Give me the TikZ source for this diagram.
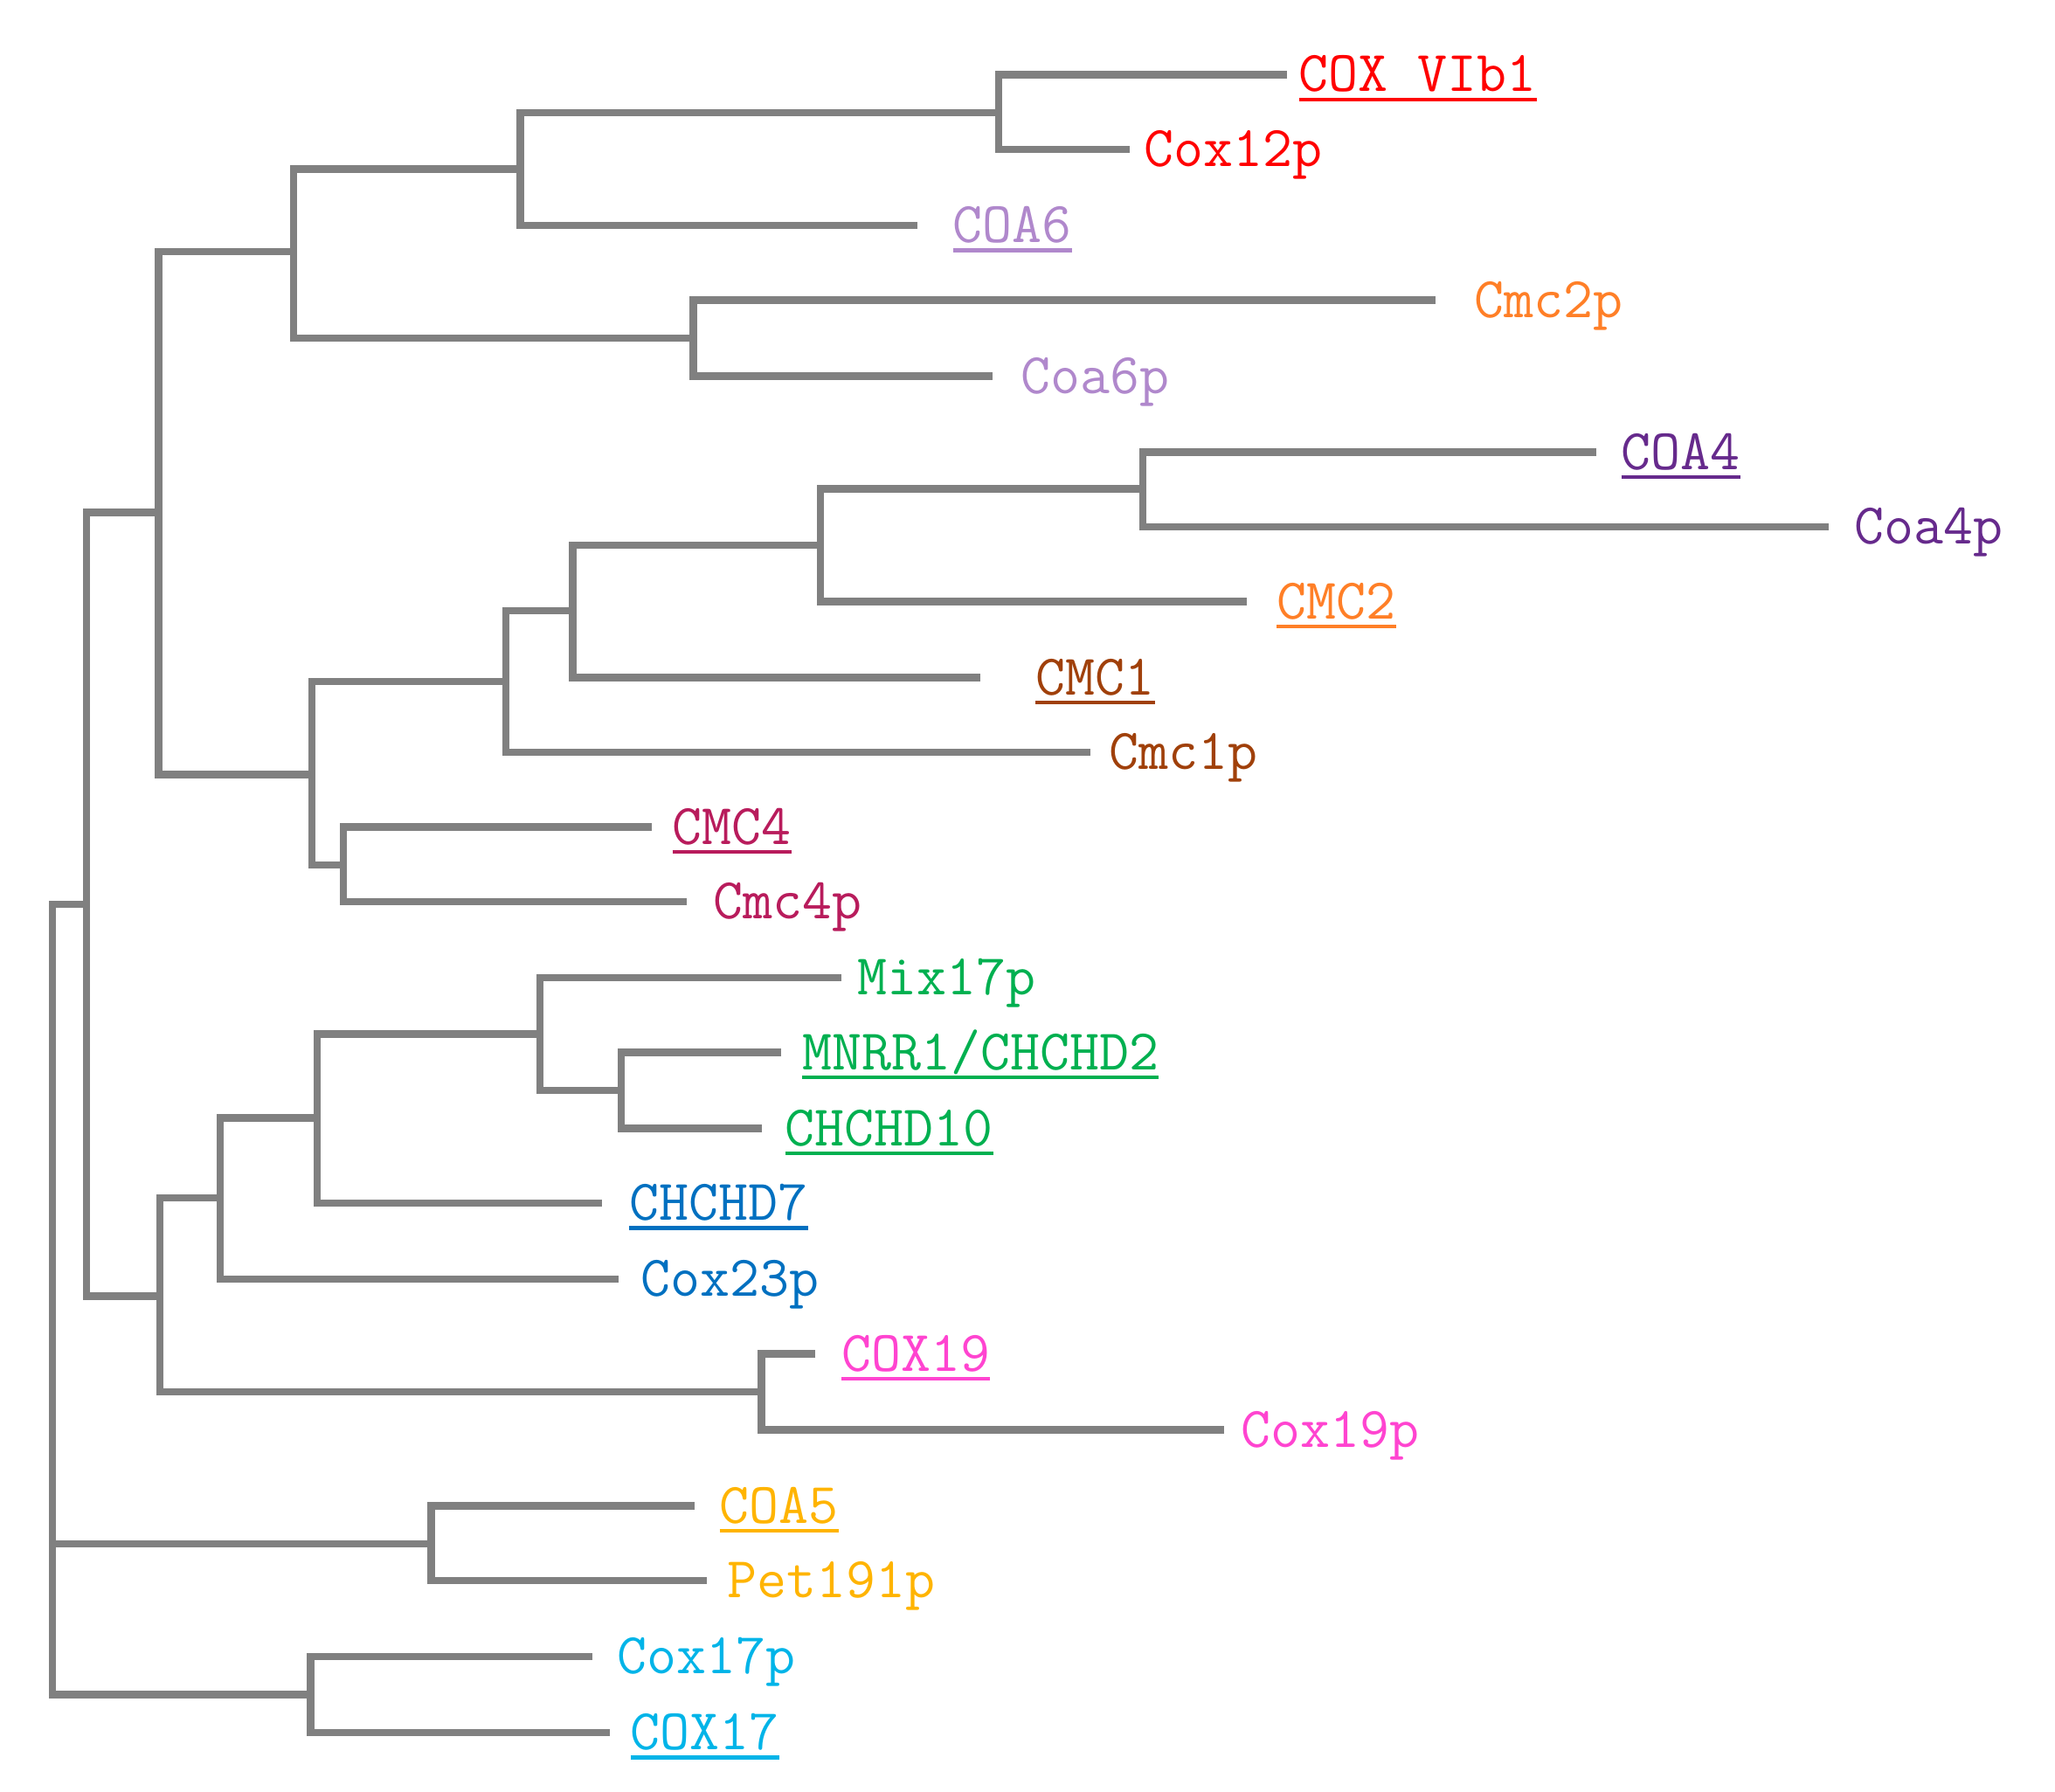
\documentclass[tikz,border=0pt]{standalone}
\usepackage{fontspec}
\definecolor{treegray}{HTML}{808080}
\definecolor{cRed}{HTML}{FF0000}
\definecolor{cLilac}{HTML}{B088CC}
\definecolor{cOrange}{HTML}{FF7F27}
\definecolor{cPurple}{HTML}{662A8C}
\definecolor{cBrown}{HTML}{A0400A}
\definecolor{cCrimson}{HTML}{B81C5C}
\definecolor{cGreen}{HTML}{00B050}
\definecolor{cBlue}{HTML}{0070C0}
\definecolor{cPink}{HTML}{FF44D0}
\definecolor{cGold}{HTML}{FFB400}
\definecolor{cCyan}{HTML}{00B4E8}
\tikzset{
  branch/.style={draw=treegray, line width=5.5pt},
  lbl/.style={anchor=base west, inner sep=0pt, font=\ttfamily\fontsize{44}{46}\selectfont},
  uline/.style={line width=2.7pt},
}
\begin{document}
\begin{tikzpicture}[x=1pt,y=-1pt]
    \useasboundingbox (0,0) rectangle (1568,1367);
    % leaf tips
    \coordinate (tCoxVIb) at (982,57);
    \coordinate (tCoxXIIp) at (862,114);
    \coordinate (tCoaVI) at (700,172);
    \coordinate (tCmcIIp) at (1095,229);
    \coordinate (tCoaVIp) at (757,287);
    \coordinate (tCoaIV) at (1218,345);
    \coordinate (tCoaIVp) at (1395,402);
    \coordinate (tCmcII) at (951,459);
    \coordinate (tCmcI) at (748,517);
    \coordinate (tCmcIp) at (832,574);
    \coordinate (tCmcIV) at (497,631);
    \coordinate (tCmcIVp) at (524,688);
    \coordinate (tMix) at (642,746);
    \coordinate (tMnrr) at (596,803);
    \coordinate (tChchdX) at (581,861);
    \coordinate (tChchdVII) at (459,918);
    \coordinate (tCoxXXIIIp) at (472,976);
    \coordinate (tCoxXIX) at (622,1033);
    \coordinate (tCoxXIXp) at (934,1091);
    \coordinate (tCoaV) at (530,1149);
    \coordinate (tPet) at (539,1206);
    \coordinate (tCoxXVIIp) at (452,1264);
    \coordinate (tCoxXVII) at (465,1322);
    % inner nodes
    \coordinate (nA) at (762,86);
    \coordinate (nB) at (397,129);
    \coordinate (nC) at (529,258);
    \coordinate (nD) at (224,192);
    \coordinate (nE) at (872,373);
    \coordinate (nF) at (626,416);
    \coordinate (nG) at (437,466);
    \coordinate (nH) at (386,520);
    \coordinate (nI) at (262,660);
    \coordinate (nJ) at (238,591);
    \coordinate (nK) at (121,391);
    \coordinate (nL) at (474,832);
    \coordinate (nM) at (412,789);
    \coordinate (nN) at (242,853);
    \coordinate (nO) at (168,914);
    \coordinate (nP) at (581,1062);
    \coordinate (nQ) at (122,989);
    \coordinate (nR) at (66,690);
    \coordinate (nS) at (329,1178);
    \coordinate (nT) at (237,1293);
    \coordinate (root) at (40,1178);
    % branches
    \draw[branch] (tCoxVIb) -| (nA) |- (tCoxXIIp);
    \draw[branch] (nA) -| (nB) |- (tCoaVI);
    \draw[branch] (tCmcIIp) -| (nC) |- (tCoaVIp);
    \draw[branch] (nB) -| (nD) |- (nC);
    \draw[branch] (tCoaIV) -| (nE) |- (tCoaIVp);
    \draw[branch] (nE) -| (nF) |- (tCmcII);
    \draw[branch] (nF) -| (nG) |- (tCmcI);
    \draw[branch] (nG) -| (nH) |- (tCmcIp);
    \draw[branch] (tCmcIV) -| (nI) |- (tCmcIVp);
    \draw[branch] (nH) -| (nJ) |- (nI);
    \draw[branch] (nD) -| (nK) |- (nJ);
    \draw[branch] (tMnrr) -| (nL) |- (tChchdX);
    \draw[branch] (tMix) -| (nM) |- (nL);
    \draw[branch] (nM) -| (nN) |- (tChchdVII);
    \draw[branch] (nN) -| (nO) |- (tCoxXXIIIp);
    \draw[branch] (tCoxXIX) -| (nP) |- (tCoxXIXp);
    \draw[branch] (nO) -| (nQ) |- (nP);
    \draw[branch] (nK) -| (nR) |- (nQ);
    \draw[branch] (tCoaV) -| (nS) |- (tPet);
    \draw[branch] (tCoxXVIIp) -| (nT) |- (tCoxXVII);
    \draw[branch] (nR) -| (root) |- (nT);
    \draw[branch] (root) -- (nS);
    % labels
    \node[lbl, text=cRed] (lCoxVIb) at (991,70) {COX VIb1};
    \node[lbl, text=cRed] (lCoxXIIp) at (873,127) {Cox12p};
    \node[lbl, text=cLilac] (lCoaVI) at (727,185) {COA6};
    \node[lbl, text=cOrange] (lCmcIIp) at (1125,242) {Cmc2p};
    \node[lbl, text=cLilac] (lCoaVIp) at (779,300) {Coa6p};
    \node[lbl, text=cPurple] (lCoaIV) at (1237,358) {COA4};
    \node[lbl, text=cPurple] (lCoaIVp) at (1415,415) {Coa4p};
    \node[lbl, text=cOrange] (lCmcII) at (974,472) {CMC2};
    \node[lbl, text=cBrown] (lCmcI) at (790,530) {CMC1};
    \node[lbl, text=cBrown] (lCmcIp) at (846,587) {Cmc1p};
    \node[lbl, text=cCrimson] (lCmcIV) at (513,644) {CMC4};
    \node[lbl, text=cCrimson] (lCmcIVp) at (544,701) {Cmc4p};
    \node[lbl, text=cGreen] (lMix) at (654,759) {Mix17p};
    \node[lbl, text=cGreen] (lMnrr) at (612,816) {MNRR1/CHCHD2};
    \node[lbl, text=cGreen] (lChchdX) at (599,874) {CHCHD10};
    \node[lbl, text=cBlue] (lChchdVII) at (480,931) {CHCHD7};
    \node[lbl, text=cBlue] (lCoxXXIIIp) at (489,989) {Cox23p};
    \node[lbl, text=cPink] (lCoxXIX) at (642,1046) {COX19};
    \node[lbl, text=cPink] (lCoxXIXp) at (947,1104) {Cox19p};
    \node[lbl, text=cGold] (lCoaV) at (549,1162) {COA5};
    \node[lbl, text=cGold] (lPet) at (555,1219) {Pet191p};
    \node[lbl, text=cCyan] (lCoxXVIIp) at (471,1277) {Cox17p};
    \node[lbl, text=cCyan] (lCoxXVII) at (481,1335) {COX17};
    % underlines of the human names
    \foreach \n/\c in {lCoxVIb/cRed, lCoaVI/cLilac, lCoaIV/cPurple, lCmcII/cOrange,
      lCmcI/cBrown, lCmcIV/cCrimson, lMnrr/cGreen, lChchdX/cGreen, lChchdVII/cBlue,
      lCoxXIX/cPink, lCoaV/cGold, lCoxXVII/cCyan}
      \draw[uline, \c] ([yshift=-6pt]\n.base west) -- ([yshift=-6pt]\n.base east);
\end{tikzpicture}
\end{document}
